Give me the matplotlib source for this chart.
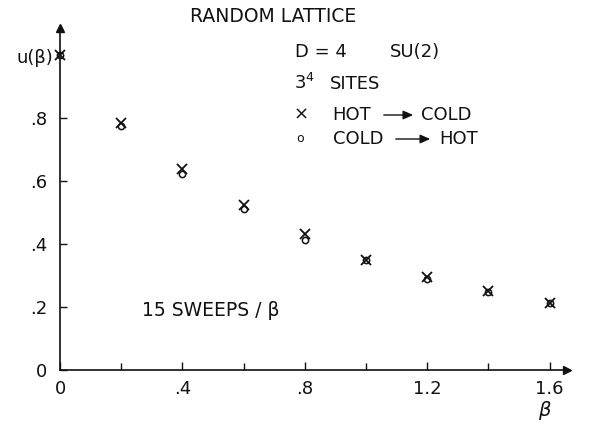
import matplotlib
matplotlib.use("Agg")
import matplotlib.pyplot as plt

plt.rcParams["font.family"] = ["DejaVu Sans"]

# data
beta = [0.0, 0.2, 0.4, 0.6, 0.8, 1.0, 1.2, 1.4, 1.6]
u_hot_cold = [1.0, 0.785, 0.638, 0.525, 0.432, 0.350, 0.296, 0.250, 0.214]
u_cold_hot = [1.0, 0.775, 0.622, 0.510, 0.414, 0.350, 0.288, 0.248, 0.212]

x_ticks = [0.0, 0.4, 0.8, 1.2, 1.6]
x_ticklabels = ["0", ".4", ".8", "1.2", "1.6"]
x_minor = [0.2, 0.6, 1.0, 1.4]
y_ticks = [0.0, 0.2, 0.4, 0.6, 0.8]
y_ticklabels = ["0", ".2", ".4", ".6", ".8"]

INK = "#111111"
W, H = 599, 424


def px(x, y):
    return x / W, 1 - y / H


def label(x, y, s, size=13, ha="left", **kw):
    fig.text(*px(x, y), s, ha=ha, va="center", fontsize=size, color=INK, **kw)


def arrow(xa, xb, y):
    fig.add_artist(matplotlib.patches.FancyArrowPatch(
        px(xa, y), px(xb, y), transform=fig.transFigure,
        arrowstyle="-|>,head_length=0.5,head_width=0.22",
        mutation_scale=12, color=INK, linewidth=1.0))


fig = plt.figure(figsize=(5.99, 4.24), dpi=100)
x0, y0, x1, y1 = 60, 370, 567, 28
ax = fig.add_axes([x0 / W, (H - y0) / H, (x1 - x0) / W, (y0 - y1) / H])
ax.set_xlim(0, 1.657)
ax.set_ylim(0, 1.086)
for s in ("top", "right"):
    ax.spines[s].set_visible(False)
for s in ("left", "bottom"):
    ax.spines[s].set_color(INK)
    ax.spines[s].set_linewidth(1.2)

# arrow heads at axis ends
ax.plot(1, 0, ">", color=INK, markersize=6, transform=ax.transAxes, clip_on=False)
ax.plot(0, 1, "^", color=INK, markersize=6, transform=ax.transAxes, clip_on=False)

ax.set_xticks(x_ticks, x_ticklabels)
ax.set_xticks(x_minor, minor=True)
ax.set_yticks(y_ticks, y_ticklabels)
ax.tick_params(axis="both", which="both", direction="in", color=INK,
               labelcolor=INK, labelsize=13, width=1.0)
ax.tick_params(axis="x", which="major", length=6, pad=7)
ax.tick_params(axis="x", which="minor", length=5)
ax.tick_params(axis="y", which="major", length=5, pad=9)

ax.plot(beta, u_hot_cold, linestyle="none", marker="x", markersize=6.5,
        markeredgewidth=1.3, color=INK, clip_on=False)
ax.plot(beta, u_cold_hot, linestyle="none", marker="o", markersize=4.5,
        markerfacecolor="none", markeredgewidth=1.1, color=INK, clip_on=False)

# text annotations
label(273, 16, "RANDOM LATTICE", size=13.5, ha="center")
label(295, 52, "D = 4")
label(390, 52, "SU(2)")
label(294, 83, r"3$^{\mathsf{4}}$")
label(330, 84, "SITES")
label(294, 115, "×")
label(332, 115, "HOT")
arrow(381, 416, 115)
label(421, 115, "COLD")
label(296, 139, "o", size=9)
label(333, 139, "COLD")
arrow(393, 433, 139)
label(439, 139, "HOT")
label(142, 310, "15 SWEEPS / β", size=13.5)
label(53, 58, "u(β)", ha="right")
label(545, 410, r"$\beta$", size=14, ha="center")

fig.savefig("out.png", dpi=100, facecolor="white")
